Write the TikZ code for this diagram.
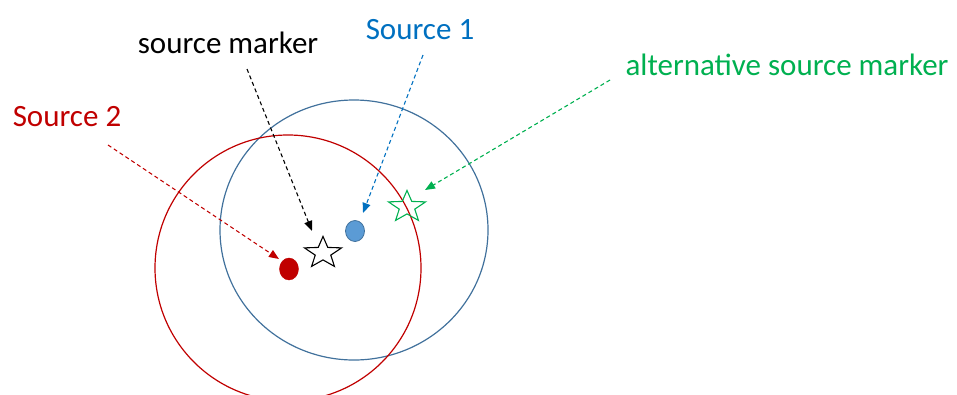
\documentclass[tikz,border=0pt]{standalone}
\usepackage{fontspec}
\setmainfont{Carlito}
\usetikzlibrary{shapes.geometric,arrows.meta}
\definecolor{cblue}{RGB}{0,112,192}
\definecolor{cring}{RGB}{65,113,156}
\definecolor{cdot}{RGB}{91,155,213}
\definecolor{cred}{RGB}{192,0,0}
\definecolor{cgreen}{RGB}{0,176,80}
\tikzset{
  lbl/.style={font=\fontsize{31}{36}\selectfont, inner sep=0pt, anchor=center},
  ptr/.style={dashed, line width=1.1pt, dash pattern=on 4pt off 3pt, -{Triangle[length=10pt,width=8pt]}},
  mystar/.style={star, star points=5, star point ratio=2.4, minimum size=39pt, inner sep=0pt, line width=1.1pt, yscale=0.85, transform shape},
  ring/.style={line width=1.2pt},
}
\begin{document}
\begin{tikzpicture}[x=1pt,y=-1pt]
\useasboundingbox (0,0) rectangle (957,394);
% circles
\draw[ring, cring] (354,230) ellipse [x radius=134, y radius=130];
\draw[ring, cred] (288,268) ellipse [x radius=133, y radius=133];
% markers
\node[ellipse, draw=cred, fill=cred, minimum width=19pt, minimum height=22pt, inner sep=0pt] (s2) at (289,269) {};
\node[ellipse, draw=cring, fill=cdot, line width=0.8pt, minimum width=19pt, minimum height=21pt, inner sep=0pt] (s1) at (355,231) {};
\node[mystar, draw=black, fill=white] (sm) at (323,253) {};
\node[mystar, draw=cgreen, fill=none] (asm) at (407,207) {};
% labels
\node[lbl] (tsm) at (228,43) {source marker};
\node[lbl, text=cblue] (ts1) at (420,30) {Source 1};
\node[lbl, text=cred] (ts2) at (67,117) {Source 2};
\node[lbl, text=cgreen] (tasm) at (787,65) {alternative source marker};
% arrow ends
\coordinate (a1) at (247,69);
\coordinate (b1) at (312,231);
\coordinate (a2) at (423,55);
\coordinate (b2) at (363,213);
\coordinate (a3) at (108,145);
\coordinate (b3) at (279,259);
\coordinate (a4) at (610,80);
\coordinate (b4) at (425,190);
\draw[ptr, black] (a1) -- (b1);
\draw[ptr, cblue] (a2) -- (b2);
\draw[ptr, cred] (a3) -- (b3);
\draw[ptr, cgreen] (a4) -- (b4);
\end{tikzpicture}
\end{document}
